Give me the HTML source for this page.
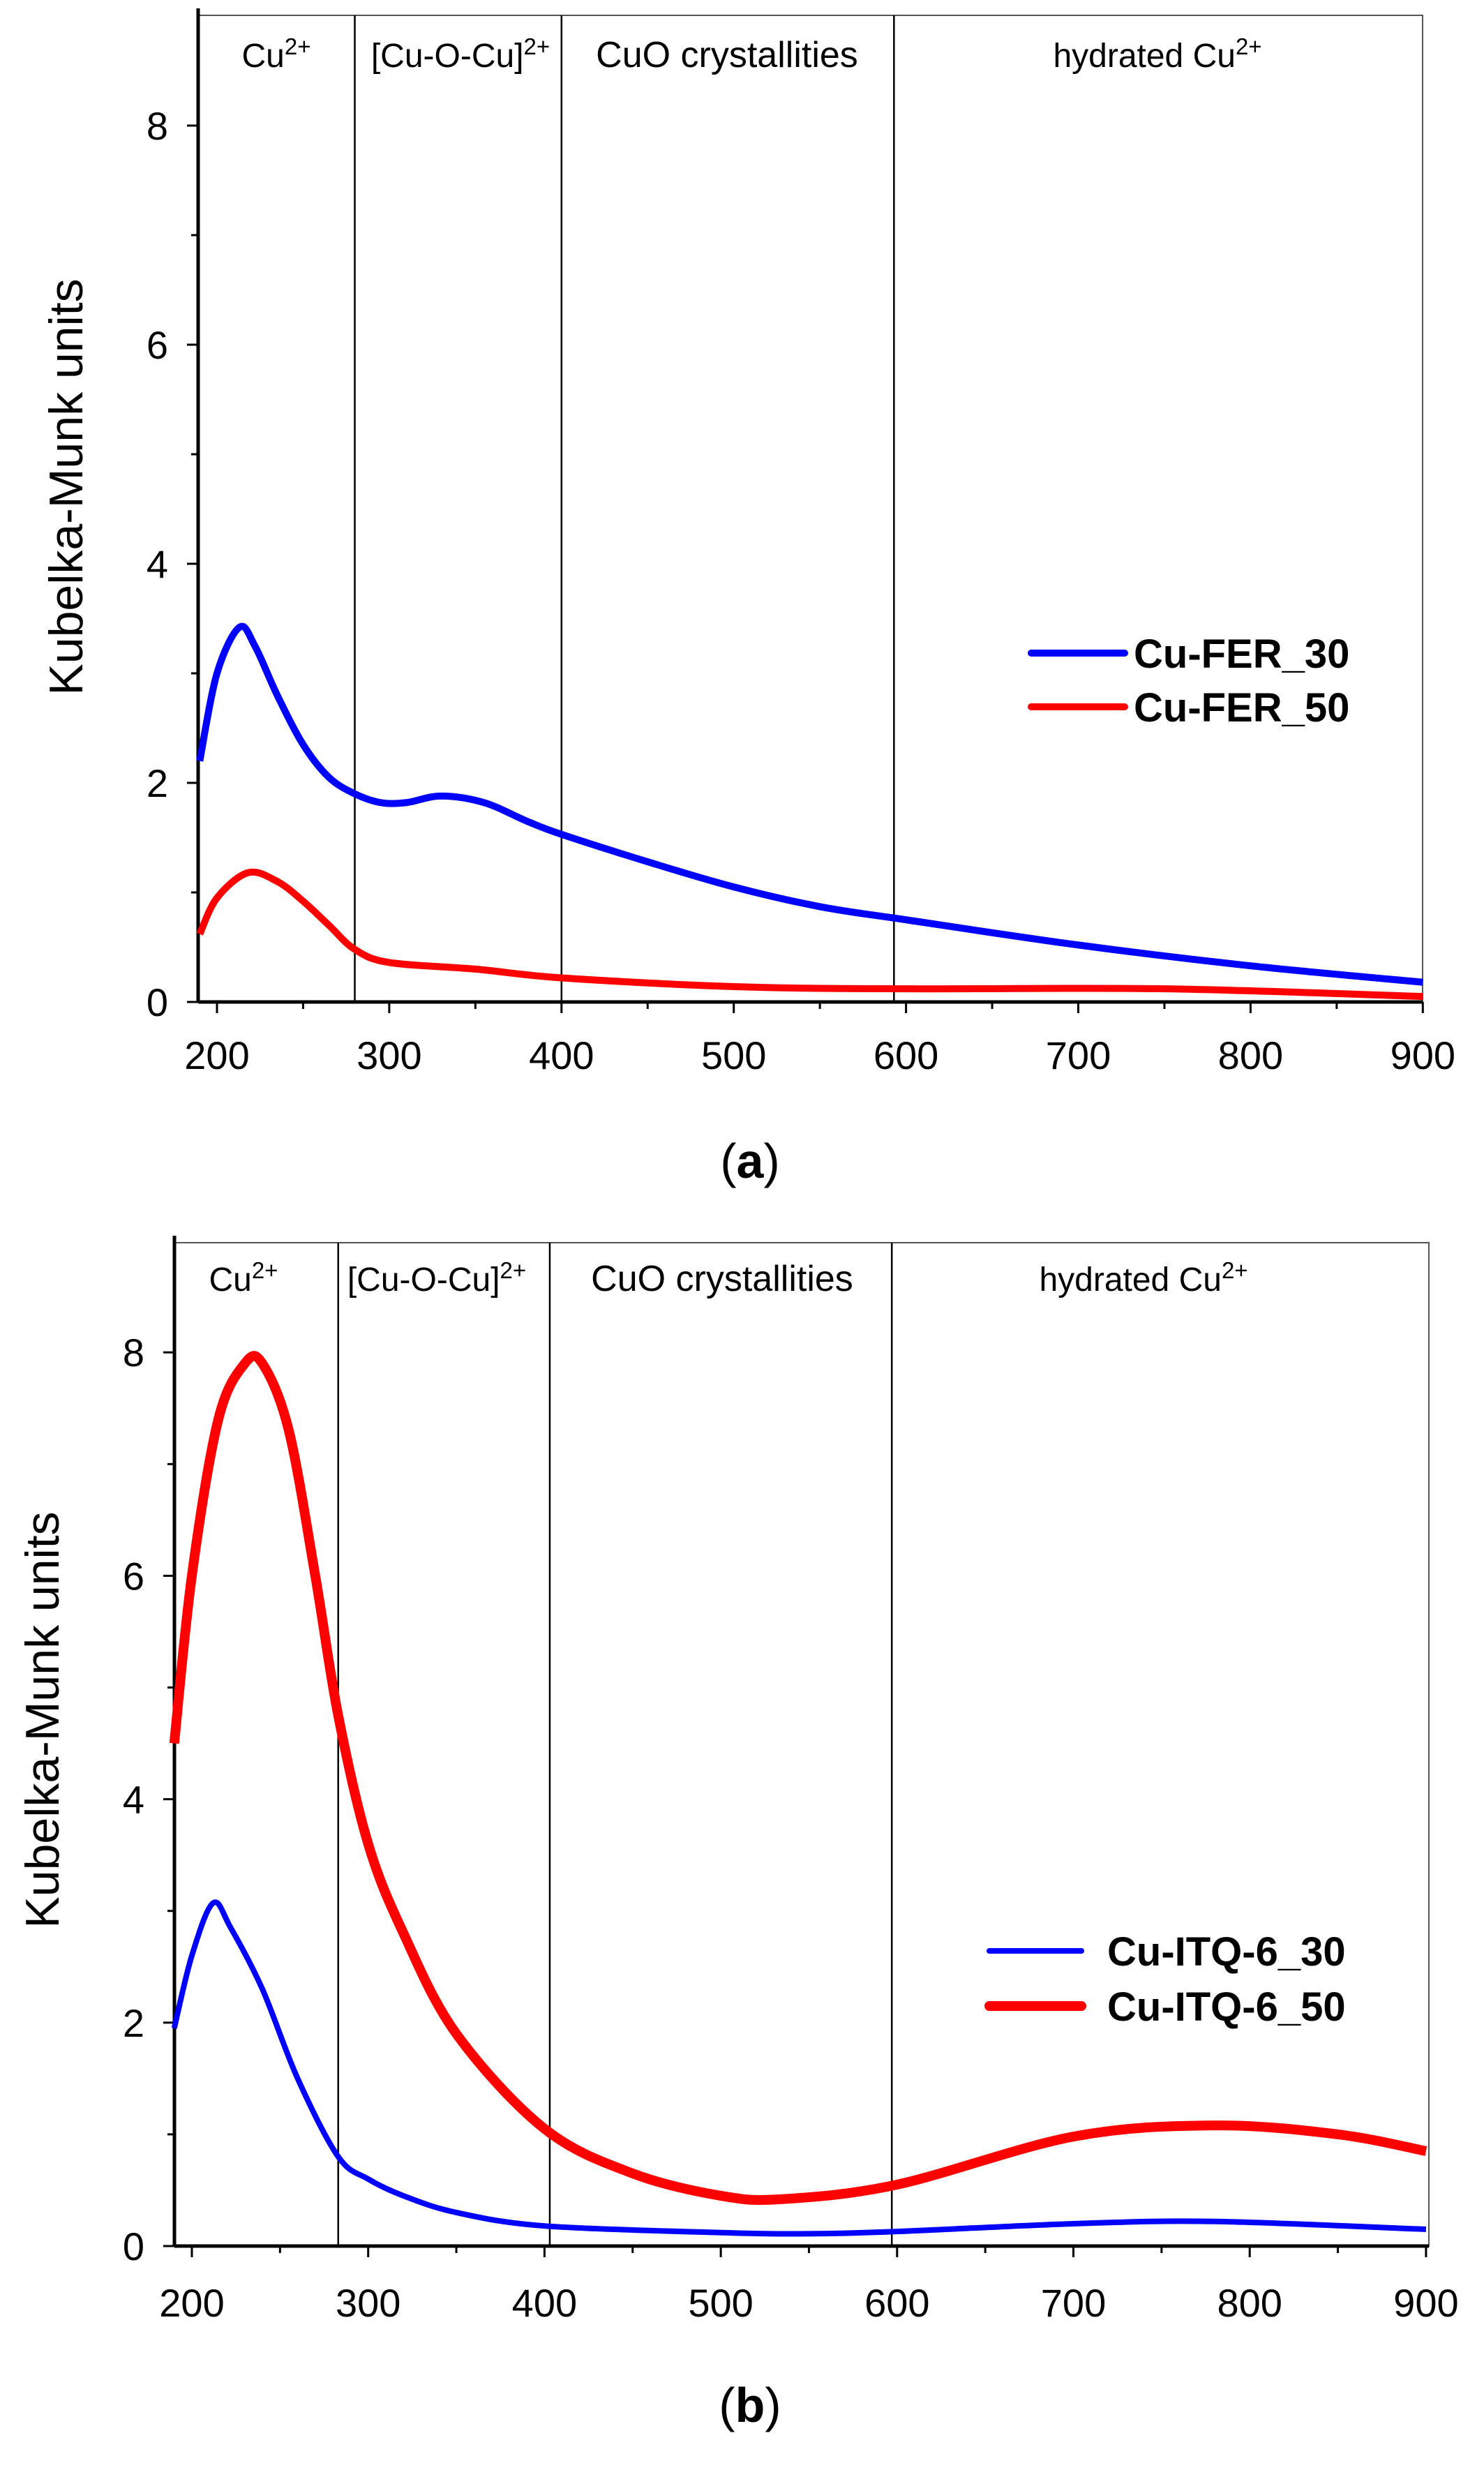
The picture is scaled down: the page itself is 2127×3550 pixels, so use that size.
<!DOCTYPE html>
<html><head><meta charset="utf-8"><style>
html,body{margin:0;padding:0;background:#fff;}
svg{display:block;}
text{font-family:"Liberation Sans",Arial,sans-serif;}
</style></head><body>
<svg id="s" width="2127" height="3550" viewBox="0 0 2127 3550" xmlns="http://www.w3.org/2000/svg">
<rect width="2127" height="3550" fill="#fff"/>
<g id="g"></g>
<g font-size="48" fill="#000" text-anchor="middle">
<text x="396" y="96">Cu<tspan dy="-18" font-size="33">2+</tspan></text>
<text x="660" y="96">[Cu-O-Cu]<tspan dy="-18" font-size="33">2+</tspan></text>
<text x="1042" y="96" font-size="52">CuO crystallities</text>
<text x="1659" y="96">hydrated Cu<tspan dy="-18" font-size="33">2+</tspan></text>
<text x="349" y="1850">Cu<tspan dy="-18" font-size="33">2+</tspan></text>
<text x="626" y="1850">[Cu-O-Cu]<tspan dy="-18" font-size="33">2+</tspan></text>
<text x="1035" y="1850" font-size="52">CuO crystallities</text>
<text x="1639" y="1850">hydrated Cu<tspan dy="-18" font-size="33">2+</tspan></text>
</g>
<text transform="translate(118,698) rotate(-90)" font-size="68" text-anchor="middle">Kubelka-Munk units</text>
<text transform="translate(84,2465) rotate(-90)" font-size="68" text-anchor="middle">Kubelka-Munk units</text>
<g font-size="58" font-weight="bold">
<text x="1625" y="957">Cu-FER_30</text>
<text x="1625" y="1034">Cu-FER_50</text>
<text x="1587" y="2817">Cu-ITQ-6_30</text>
<text x="1587" y="2896">Cu-ITQ-6_50</text>
</g>
<text x="1075" y="1688" font-family="Liberation Serif" font-size="70" text-anchor="middle">(<tspan font-weight="bold">a</tspan>)</text>
<text x="1075" y="3471" font-family="Liberation Serif" font-size="70" text-anchor="middle">(<tspan font-weight="bold">b</tspan>)</text>
</svg>
<script>
var NS="http://www.w3.org/2000/svg",G=document.getElementById("g");
function el(t,a){var e=document.createElementNS(NS,t);for(var k in a)e.setAttribute(k,a[k]);G.appendChild(e);return e;}
function tx(x,y,s,anchor){var e=el("text",{x:x,y:y,"font-size":56,"text-anchor":anchor});e.textContent=s;}
function chart(c){
 var X=function(v){return c.x200+(v-200)*c.sx},Y=function(v){return c.y0-v*c.sy};
 el("rect",{x:c.left,y:c.top,width:c.right-c.left,height:c.y0-c.top,fill:"none",stroke:"#555","stroke-width":2});
 el("line",{x1:c.left,y1:c.top-10,x2:c.left,y2:c.y0,stroke:"#000","stroke-width":5});
 el("line",{x1:c.left,y1:c.y0,x2:c.right,y2:c.y0,stroke:"#000","stroke-width":5});
 c.seps.forEach(function(v){el("line",{x1:X(v),y1:c.top,x2:X(v),y2:c.y0,stroke:"#000","stroke-width":2.5});});
 for(var v=200;v<=900;v+=50){var maj=v%100==0;el("line",{x1:X(v),y1:c.y0,x2:X(v),y2:c.y0+(maj?16:10),stroke:"#000","stroke-width":3});
  if(maj)tx(X(v),c.xl,""+v,"middle");}
 for(var v=0;v<=8;v++){var maj=v%2==0;el("line",{x1:c.left,y1:Y(v),x2:c.left-(maj?16:10),y2:Y(v),stroke:"#000","stroke-width":3});
  if(maj)tx(c.yl,Y(v)+20,""+v,"end");}
 c.series.forEach(function(s){
  var p=s.d.map(function(q){return[X(q[0]),Y(q[1])]}),d="M"+p[0][0]+","+p[0][1];
  for(var i=0;i<p.length-1;i++){var p0=p[i-1]||p[i],p1=p[i],p2=p[i+1],p3=p[i+2]||p2;
   d+="C"+(p1[0]+(p2[0]-p0[0])/6)+","+(p1[1]+(p2[1]-p0[1])/6)+" "+(p2[0]-(p3[0]-p1[0])/6)+","+(p2[1]-(p3[1]-p1[1])/6)+" "+p2[0]+","+p2[1];}
  el("path",{d:d,fill:"none",stroke:s.c,"stroke-width":s.w,"stroke-linejoin":"round"});
  el("line",{x1:s.lx1,y1:s.ly,x2:s.lx2,y2:s.ly,stroke:s.c,"stroke-width":s.w,"stroke-linecap":"round"});
 });
}
chart({x200:311,sx:2.469,y0:1436,sy:157,left:284,right:2039,top:22,seps:[280,400,593],xl:1532,yl:241,
 series:[
 {c:"#0000ff",w:10,lx1:1478,lx2:1612,ly:936,d:[[190,2.2],[200,3.0],[213,3.42],[222,3.25],[235,2.8],[250,2.35],[265,2.05],[280,1.9],[295,1.82],[310,1.82],[330,1.88],[355,1.82],[380,1.65],[400,1.53],[450,1.28],[500,1.05],[550,0.87],[600,0.75],[700,0.52],[800,0.33],[900,0.18]]},
 {c:"#ff0000",w:10,lx1:1478,lx2:1612,ly:1013,d:[[190,0.62],[200,0.95],[218,1.18],[235,1.1],[250,0.92],[265,0.7],[280,0.48],[300,0.36],[350,0.3],[400,0.22],[500,0.14],[600,0.12],[750,0.12],[900,0.05]]}
 ]});
chart({x200:275,sx:2.527,y0:3219,sy:160.1,left:250,right:2048,top:1781,seps:[283,403,597],xl:3320,yl:207,
 series:[
 {c:"#0000ff",w:8,lx1:1418,lx2:1550,ly:2796,d:[[190,1.95],[200,2.6],[212,3.07],[222,2.85],[240,2.3],[260,1.5],[283,0.8],[300,0.6],[320,0.45],[350,0.3],[400,0.18],[500,0.12],[550,0.11],[600,0.13],[700,0.2],[780,0.22],[900,0.15]]},
 {c:"#ff0000",w:14,lx1:1418,lx2:1550,ly:2875,d:[[190,4.5],[200,6.0],[215,7.4],[230,7.9],[240,7.9],[255,7.3],[270,6.0],[283,4.75],[300,3.6],[320,2.8],[350,1.9],[400,1.05],[450,0.65],[500,0.45],[535,0.42],[600,0.55],[700,0.98],[780,1.08],[850,1.0],[900,0.85]]}
 ]});
</script>
</body></html>
